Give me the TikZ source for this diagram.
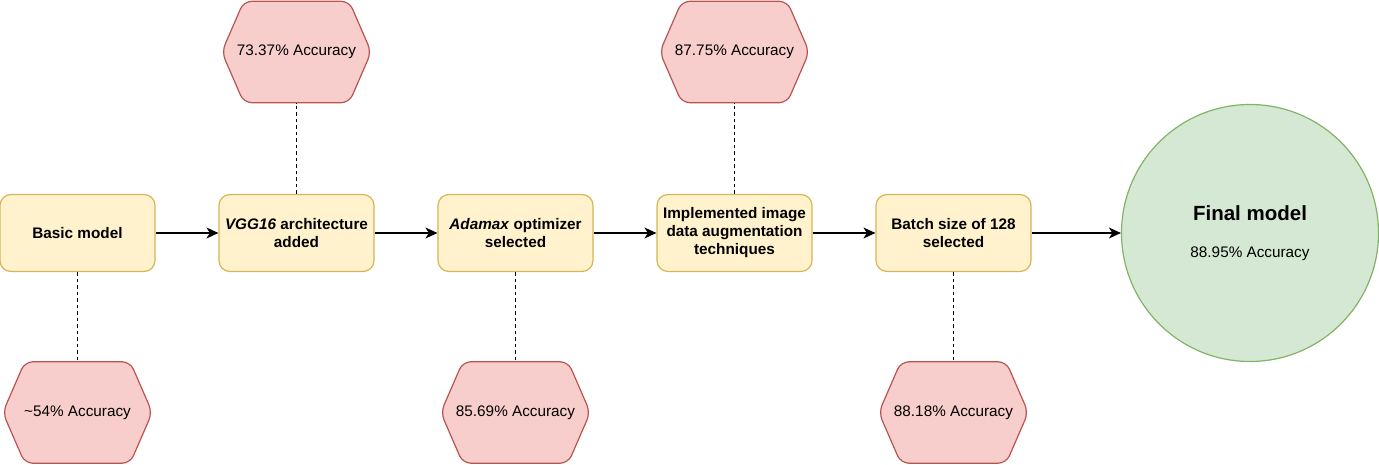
\documentclass[tikz,border=0pt]{standalone}
\usepackage{fontspec}
\setmainfont{Liberation Sans}
\usepackage{tikz}
\usetikzlibrary{arrows.meta, backgrounds}

\definecolor{boxfill}{HTML}{FFF2CC}
\definecolor{boxline}{HTML}{D6B656}
\definecolor{accfill}{HTML}{F8CECC}
\definecolor{accline}{HTML}{B85450}
\definecolor{endfill}{HTML}{D5E8D4}
\definecolor{endline}{HTML}{82B366}

\tikzset{
    stage/.style = {draw = boxline, fill = boxfill, line width = 1.2pt, rounded corners = 11pt,
        minimum width = 155pt, minimum height = 77pt, align = center, inner sep = 2pt,
        font = \fontsize{15.3}{18}\selectfont\bfseries},
    acc/.style = {minimum width = 149pt, minimum height = 101pt, inner sep = 0pt,
        font = \fontsize{15.3}{18}\selectfont},
    hexline/.style = {draw = accline, fill = accfill, line width = 1.2pt, rounded corners = 8pt},
    dotline/.style = {line width = 1.8pt, dash pattern = on 3.5pt off 3pt},
    flow/.style = {-{Stealth[length = 12pt, width = 11pt, inset = 3.5pt]}, line width = 1.1pt}
}

\newcommand{\hexa}[1]{
    \draw[hexline] ([xshift = 22pt]#1.north west) -- ([xshift = -22pt]#1.north east)
        -- (#1.east) -- ([xshift = -22pt]#1.south east)
        -- ([xshift = 22pt]#1.south west) -- (#1.west) -- cycle;
}

\begin{document}
\begin{tikzpicture}[x = 1pt, y = -1pt]
        \useasboundingbox (0, 0) rectangle (1379, 465);
        % stages
        \node[stage] (basic) at (77.5, 233) {Basic model};
        \node[stage] (vgg) at (296.5, 233) {\textit{VGG16} architecture\\added};
        \node[stage] (adamax) at (515.5, 233) {\textit{Adamax} optimizer\\selected};
        \node[stage] (augment) at (734.5, 233) {Implemented image\\data augmentation\\techniques};
        \node[stage] (batch) at (953.5, 233) {Batch size of 128\\selected};
        \node[circle, draw = endline, fill = endfill, line width = 1.2pt, minimum size = 257pt,
            align = center, inner sep = 0pt] (final) at (1250, 233)
            {\fontsize{20.5}{24}\selectfont\bfseries Final model\\[25pt]
             \fontsize{15.3}{18}\selectfont 88.95\% Accuracy};
        % accuracies
        \node[acc] (acc1) at (77.5, 412.5) {\textasciitilde54\% Accuracy};
        \node[acc] (acc2) at (296.5, 52) {73.37\% Accuracy};
        \node[acc] (acc3) at (515.5, 412.5) {85.69\% Accuracy};
        \node[acc] (acc4) at (734.5, 52) {87.75\% Accuracy};
        \node[acc] (acc5) at (953.5, 412.5) {88.18\% Accuracy};
        \begin{scope}[on background layer]
            \hexa{acc1} \hexa{acc2} \hexa{acc3} \hexa{acc4} \hexa{acc5}
        \end{scope}
        \draw[dotline] (basic) -- (acc1);
        \draw[dotline] (vgg) -- (acc2);
        \draw[dotline] (adamax) -- (acc3);
        \draw[dotline] (augment) -- (acc4);
        \draw[dotline] (batch) -- (acc5);
        \draw[flow] (basic) -- (vgg);
        \draw[flow] (vgg) -- (adamax);
        \draw[flow] (adamax) -- (augment);
        \draw[flow] (augment) -- (batch);
        \draw[flow] (batch) -- (final);
    \end{tikzpicture}
\end{document}
